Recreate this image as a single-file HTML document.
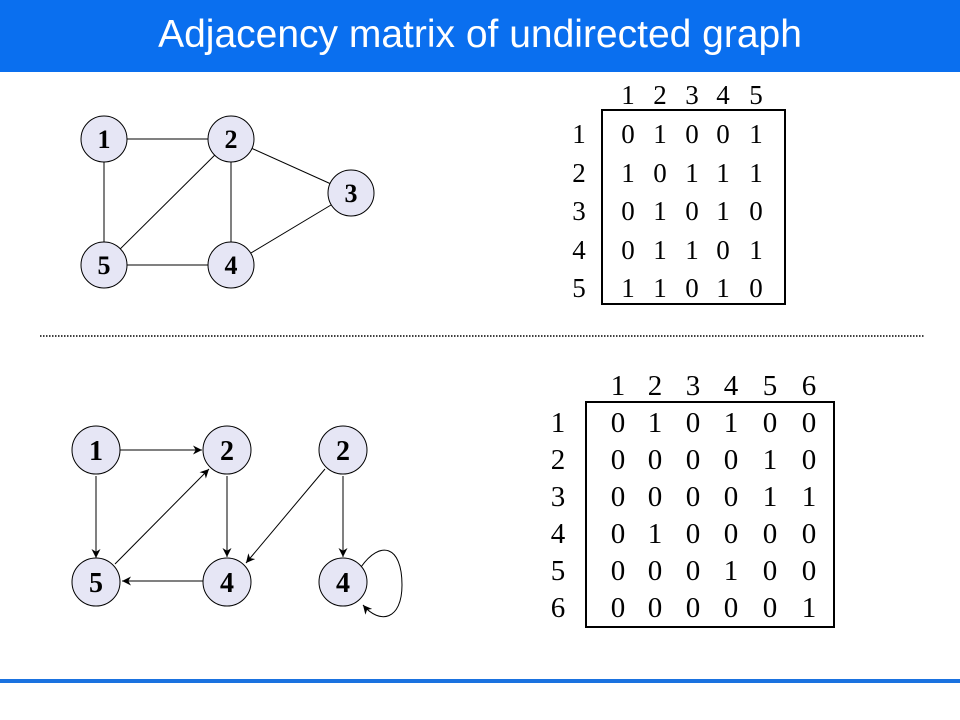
<!DOCTYPE html>
<html><head><meta charset="utf-8"><style>
html,body{margin:0;padding:0;background:#fff;}
svg{display:block;}
</style></head><body>
<svg width="960" height="720" viewBox="0 0 960 720" xmlns="http://www.w3.org/2000/svg">
<defs>
<marker id="a" viewBox="0 0 10 10" refX="10" refY="5" markerWidth="9" markerHeight="9" orient="auto" markerUnits="userSpaceOnUse">
<path d="M0,0 L10,5 L0,10 L3,5 z" fill="#000"/></marker>
</defs>
<rect x="0" y="0" width="960" height="72" fill="#0a6fef"/>
<text x="480" y="47" text-anchor="middle" font-family="Liberation Sans, sans-serif" font-size="39" fill="#fff">Adjacency matrix of undirected graph</text>
<rect x="0" y="679" width="960" height="4" fill="#1a72e0"/>
<line x1="40" y1="336" x2="925" y2="336" stroke="#000" stroke-width="1.5" stroke-dasharray="1.5,1.5"/>

<!-- top graph -->
<g stroke="#000" stroke-width="1">
<line x1="104" y1="139" x2="231" y2="139"/>
<line x1="104" y1="139" x2="104" y2="265"/>
<line x1="104" y1="265" x2="231" y2="265"/>
<line x1="231" y1="139" x2="231" y2="265"/>
<line x1="104" y1="265" x2="231" y2="139"/>
<line x1="231" y1="139" x2="351" y2="193"/>
<line x1="231" y1="265" x2="351" y2="193"/>
</g>
<g fill="#e6e6f5" stroke="#000" stroke-width="1">
<circle cx="104" cy="139" r="23"/><circle cx="231" cy="139" r="23"/><circle cx="351" cy="193" r="23"/>
<circle cx="104" cy="265" r="23"/><circle cx="231" cy="265" r="23"/>
</g>
<g font-family="Liberation Serif, serif" font-weight="bold" font-size="26" text-anchor="middle">
<text x="104" y="148">1</text><text x="231" y="148">2</text><text x="351" y="202">3</text>
<text x="104" y="274">5</text><text x="231" y="274">4</text>
</g>

<!-- bottom graph -->
<g stroke="#000" stroke-width="1" fill="none">
<line x1="120" y1="450" x2="202" y2="450" marker-end="url(#a)"/>
<line x1="96" y1="476" x2="96" y2="558" marker-end="url(#a)"/>
<line x1="115" y1="564" x2="209" y2="469" marker-end="url(#a)"/>
<line x1="227" y1="476" x2="227" y2="557" marker-end="url(#a)"/>
<line x1="203" y1="581" x2="122" y2="581" marker-end="url(#a)"/>
<line x1="325" y1="469" x2="246" y2="563" marker-end="url(#a)"/>
<line x1="343" y1="476" x2="343" y2="557" marker-end="url(#a)"/>
<path d="M361,567 C380,540 402,545 402,585 C402,620 380,625 363,605" marker-end="url(#a)"/>
</g>
<g fill="#e6e6f5" stroke="#000" stroke-width="1">
<circle cx="96" cy="450" r="24"/><circle cx="227" cy="450" r="24"/><circle cx="343" cy="450" r="24"/>
<circle cx="96" cy="582" r="24"/><circle cx="227" cy="582" r="24"/><circle cx="343" cy="582" r="24"/>
</g>
<g font-family="Liberation Serif, serif" font-weight="bold" font-size="28" text-anchor="middle">
<text x="96" y="460">1</text><text x="227" y="460">2</text><text x="343" y="460">2</text>
<text x="96" y="592">5</text><text x="227" y="592">4</text><text x="343" y="592">4</text>
</g>

<!-- matrix 1 -->
<rect x="602" y="110" width="183" height="194" fill="none" stroke="#000" stroke-width="2"/>
<g font-family="Liberation Serif, serif" font-size="27" text-anchor="middle">
<text y="104"><tspan x="628">1</tspan><tspan x="660">2</tspan><tspan x="692">3</tspan><tspan x="723">4</tspan><tspan x="756">5</tspan></text>
<text y="143"><tspan x="579">1</tspan><tspan x="628">0</tspan><tspan x="660">1</tspan><tspan x="692">0</tspan><tspan x="723">0</tspan><tspan x="756">1</tspan></text>
<text y="182"><tspan x="579">2</tspan><tspan x="628">1</tspan><tspan x="660">0</tspan><tspan x="692">1</tspan><tspan x="723">1</tspan><tspan x="756">1</tspan></text>
<text y="220"><tspan x="579">3</tspan><tspan x="628">0</tspan><tspan x="660">1</tspan><tspan x="692">0</tspan><tspan x="723">1</tspan><tspan x="756">0</tspan></text>
<text y="259"><tspan x="579">4</tspan><tspan x="628">0</tspan><tspan x="660">1</tspan><tspan x="692">1</tspan><tspan x="723">0</tspan><tspan x="756">1</tspan></text>
<text y="297"><tspan x="579">5</tspan><tspan x="628">1</tspan><tspan x="660">1</tspan><tspan x="692">0</tspan><tspan x="723">1</tspan><tspan x="756">0</tspan></text>
</g>

<!-- matrix 2 -->
<rect x="586" y="402" width="248" height="225" fill="none" stroke="#000" stroke-width="2"/>
<g font-family="Liberation Serif, serif" font-size="29" text-anchor="middle">
<text y="395"><tspan x="618">1</tspan><tspan x="655">2</tspan><tspan x="693">3</tspan><tspan x="731">4</tspan><tspan x="770">5</tspan><tspan x="809">6</tspan></text>
<text y="432"><tspan x="558">1</tspan><tspan x="618">0</tspan><tspan x="655">1</tspan><tspan x="693">0</tspan><tspan x="731">1</tspan><tspan x="770">0</tspan><tspan x="809">0</tspan></text>
<text y="469"><tspan x="558">2</tspan><tspan x="618">0</tspan><tspan x="655">0</tspan><tspan x="693">0</tspan><tspan x="731">0</tspan><tspan x="770">1</tspan><tspan x="809">0</tspan></text>
<text y="506"><tspan x="558">3</tspan><tspan x="618">0</tspan><tspan x="655">0</tspan><tspan x="693">0</tspan><tspan x="731">0</tspan><tspan x="770">1</tspan><tspan x="809">1</tspan></text>
<text y="543"><tspan x="558">4</tspan><tspan x="618">0</tspan><tspan x="655">1</tspan><tspan x="693">0</tspan><tspan x="731">0</tspan><tspan x="770">0</tspan><tspan x="809">0</tspan></text>
<text y="580"><tspan x="558">5</tspan><tspan x="618">0</tspan><tspan x="655">0</tspan><tspan x="693">0</tspan><tspan x="731">1</tspan><tspan x="770">0</tspan><tspan x="809">0</tspan></text>
<text y="617"><tspan x="558">6</tspan><tspan x="618">0</tspan><tspan x="655">0</tspan><tspan x="693">0</tspan><tspan x="731">0</tspan><tspan x="770">0</tspan><tspan x="809">1</tspan></text>
</g>
</svg>
</body></html>
